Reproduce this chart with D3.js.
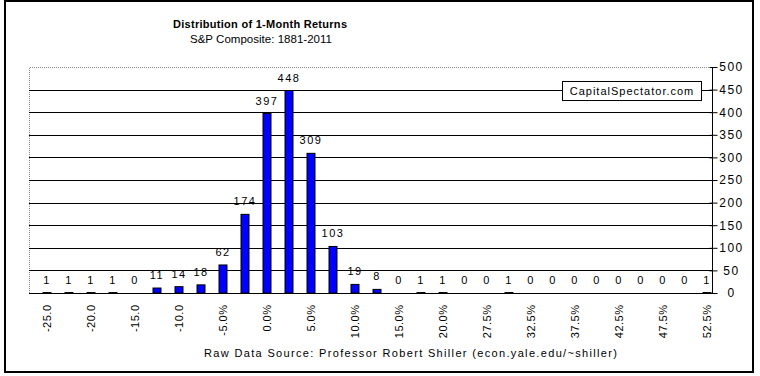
<!DOCTYPE html>
<html>
<head>
<meta charset="utf-8">
<script src="https://cdn.jsdelivr.net/npm/d3@7"></script>
<style>
    body { margin: 0; background: #fff; }
    svg { display: block; font-family: "Liberation Sans", Arial, sans-serif; }
</style>
</head>
<body>
<div id="chart"></div>
<script>
// Distribution of 1-month returns, S&P Composite 1881-2011
const categories = [
    "-25.0", "-22.5", "-20.0", "-17.5", "-15.0", "-12.5", "-10.0", "-7.5%",
    "-5.0%", "-2.5%", "0.0%", "2.5%", "5.0%", "7.5%", "10.0%", "12.5%",
    "15.0%", "17.5%", "20.0%", "25.0%", "27.5%", "30.0%", "32.5%", "35.0%",
    "37.5%", "40.0%", "42.5%", "45.0%", "47.5%", "50.0%", "52.5%"
];
const counts = [
    1, 1, 1, 1, 0, 11, 14, 18, 62, 174, 397, 448, 309, 103, 19, 8,
    0, 1, 1, 0, 0, 1, 0, 0, 0, 0, 0, 0, 0, 0, 1
];
const yTicks = [0, 50, 100, 150, 200, 250, 300, 350, 400, 450, 500];

const width = 760;
const height = 376;
const plot = { left: 29, right: 712, top: 67, bottom: 293 };

const svg = d3.select("#chart").append("svg")
    .attr("width", width)
    .attr("height", height);

// outer frame
svg.append("rect")
    .attr("x", 5)
    .attr("y", 1)
    .attr("width", 748)
    .attr("height", 371)
    .attr("fill", "none")
    .attr("stroke", "#000")
    .attr("stroke-width", 2);

const x = d3.scaleBand()
    .domain(categories)
    .range([36, 718])
    .paddingInner(13 / 22)
    .paddingOuter(13 / 44);

const y = d3.scaleLinear()
    .domain([0, 500])
    .range([plot.bottom, plot.top]);

// plot area border (dotted gray left + top)
svg.append("path")
    .attr("d", `M${plot.left + 0.5},${plot.bottom}V${plot.top + 0.5}H${plot.right}`)
    .attr("fill", "none")
    .attr("stroke", "#888")
    .attr("stroke-dasharray", "1,1");

// gridlines
svg.selectAll("line.grid")
    .data(yTicks.filter(d => d > 0 && d < 500))
    .join("line")
    .attr("class", "grid")
    .attr("x1", plot.left)
    .attr("x2", plot.right)
    .attr("y1", d => Math.round(y(d)) + 0.5)
    .attr("y2", d => Math.round(y(d)) + 0.5)
    .attr("stroke", "#000");

// bars
svg.selectAll("rect.bar")
    .data(counts)
    .join("rect")
    .attr("class", "bar")
    .attr("x", (d, i) => x(categories[i]) + 0.5)
    .attr("y", d => y(d))
    .attr("width", x.bandwidth() - 1)
    .attr("height", d => plot.bottom - y(d))
    .attr("fill", "#0000ff")
    .attr("stroke", "#000")
    .attr("stroke-width", 1);

// value labels
svg.selectAll("text.val")
    .data(counts)
    .join("text")
    .attr("class", "val")
    .attr("x", (d, i) => x(categories[i]) + x.bandwidth() / 2)
    .attr("y", d => y(d) - 9)
    .attr("text-anchor", "middle")
    .style("font-size", "11px")
    .style("letter-spacing", "1.5px")
    .text(d => d);

// x axis
const xAxis = svg.append("g")
    .attr("class", "x-axis")
    .attr("transform", `translate(0,${plot.bottom + 0.5})`)
    .call(d3.axisBottom(x)
        .tickValues(categories.filter((d, i) => i % 2 === 0))
        .tickSize(0)
        .tickPadding(0));
xAxis.select(".domain")
    .attr("d", `M${plot.left},0H${plot.right}`)
    .attr("stroke", "#000");
xAxis.selectAll("text")
    .attr("transform", "rotate(-90)")
    .attr("x", -11)
    .attr("y", 0)
    .attr("dy", "0.35em")
    .style("text-anchor", "end")
    .style("font-family", "'Liberation Sans', Arial, sans-serif")
    .style("font-size", "11px")
    .style("letter-spacing", "0.5px")
    .attr("fill", "#000");

// y axis on the right
const yAxis = svg.append("g")
    .attr("class", "y-axis")
    .attr("transform", `translate(${plot.right + 0.5},0)`)
    .call(d3.axisRight(y)
        .tickValues(yTicks)
        .tickSize(5)
        .tickPadding(0));
yAxis.select(".domain")
    .attr("d", `M0,${plot.top}V${plot.bottom}`)
    .attr("stroke", "#000");
yAxis.selectAll(".tick line")
    .attr("x1", -3)
    .attr("x2", 5)
    .attr("stroke", "#000");
yAxis.selectAll(".tick text")
    .attr("x", 19)
    .attr("text-anchor", "middle")
    .style("font-family", "'Liberation Sans', Arial, sans-serif")
    .style("font-size", "12px")
    .style("letter-spacing", "1.5px")
    .attr("fill", "#000");

// watermark box
const wm = svg.append("g").attr("transform", "translate(562,81)");
wm.append("rect")
    .attr("x", 0.5)
    .attr("y", 0.5)
    .attr("width", 139)
    .attr("height", 19)
    .attr("fill", "#fff")
    .attr("stroke", "#000");
wm.append("text")
    .attr("x", 70)
    .attr("y", 14)
    .attr("text-anchor", "middle")
    .style("font-size", "11px")
    .style("letter-spacing", "1px")
    .text("CapitalSpectator.com");

// titles
svg.append("text")
    .attr("x", 173)
    .attr("y", 28)
    .attr("textLength", 174)
    .attr("lengthAdjust", "spacing")
    .style("font-size", "11px")
    .style("font-weight", "bold")
    .text("Distribution of 1-Month Returns");

svg.append("text")
    .attr("x", 190)
    .attr("y", 43)
    .attr("textLength", 142)
    .attr("lengthAdjust", "spacing")
    .style("font-size", "11.5px")
    .text("S&P Composite: 1881-2011");

svg.append("text")
    .attr("x", 204)
    .attr("y", 357)
    .attr("textLength", 413)
    .attr("lengthAdjust", "spacing")
    .style("font-size", "11px")
    .text("Raw Data Source: Professor Robert Shiller  (econ.yale.edu/~shiller)");
</script>
</body>
</html>
